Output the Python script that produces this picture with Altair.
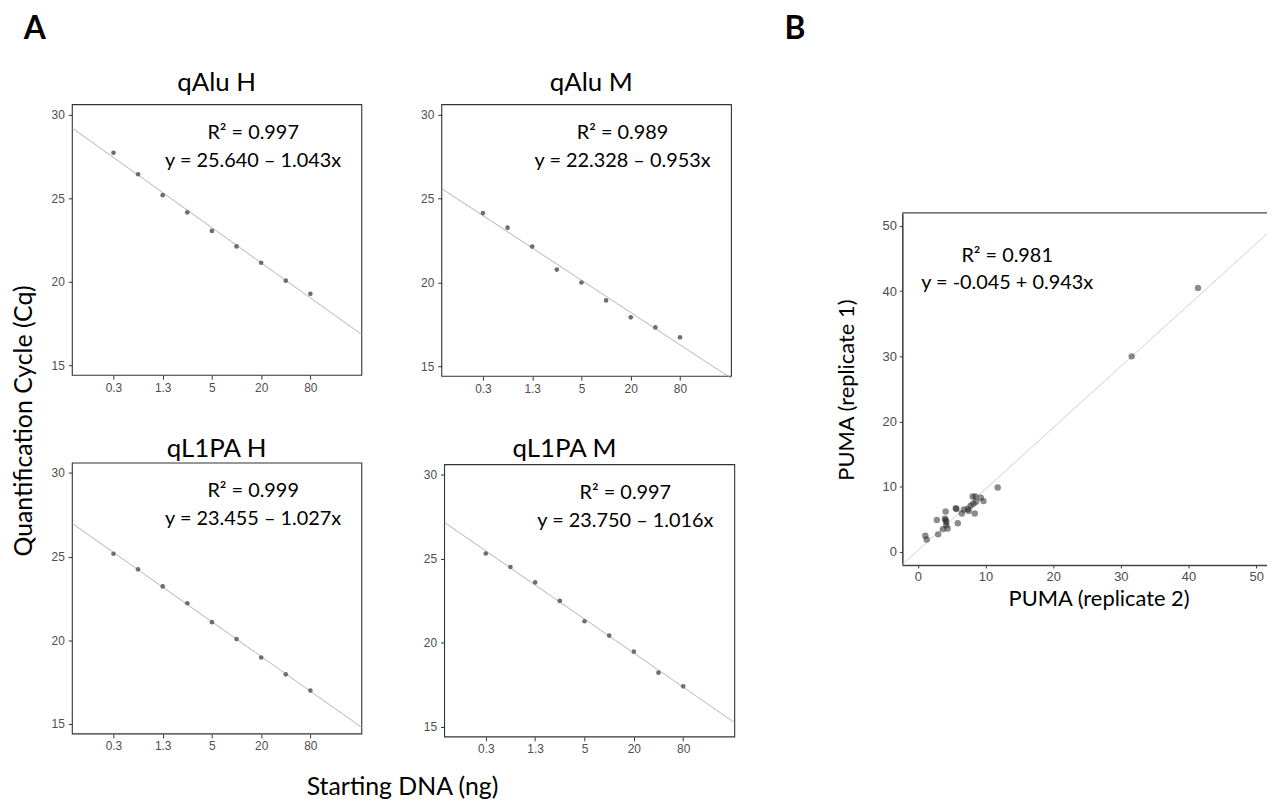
import altair as alt
import pandas as pd

# ---------------- data ----------------
dna_ng = [0.3125, 0.625, 1.25, 2.5, 5, 10, 20, 40, 80]
cq_qalu_h = [27.72, 26.43, 25.18, 24.15, 23.04, 22.11, 21.13, 20.06, 19.27]
cq_qalu_m = [24.13, 23.26, 22.13, 20.76, 19.99, 18.92, 17.91, 17.31, 16.72]
cq_ql1pa_h = [25.17, 24.24, 23.22, 22.21, 21.08, 20.07, 18.97, 17.96, 16.99]
cq_ql1pa_m = [25.31, 24.51, 23.59, 22.49, 21.28, 20.43, 19.47, 18.22, 17.41]

panel_titles = ["qAlu H", "qAlu M", "qL1PA H", "qL1PA M"]
r2_texts = ["R\u00b2 = 0.997", "R\u00b2 = 0.989", "R\u00b2 = 0.999", "R\u00b2 = 0.997"]
eq_texts = ["y = 25.640 \u2013 1.043x", "y = 22.328 \u2013 0.953x",
            "y = 23.455 \u2013 1.027x", "y = 23.750 \u2013 1.016x"]

x_ticks_a = [0.3125, 1.25, 5, 20, 80]
x_tick_labels_a = ["0.3", "1.3", "5", "20", "80"]
y_ticks_a = [15, 20, 25, 30]

puma_rep2 = [41.4, 31.6, 11.8, 8.1, 8.5, 9.3, 9.7, 8.6, 8.2, 7.8, 7.4, 8.4, 6.8, 6.5,
             5.7, 5.6, 5.9, 4.1, 2.8, 4.0, 4.1, 4.2, 4.2, 3.7, 4.4, 3.0, 1.1, 1.3, 7.5]
puma_rep1 = [40.5, 30.0, 9.9, 8.5, 8.5, 8.3, 7.8, 7.7, 7.4, 7.1, 6.6, 5.9, 6.5, 5.9,
             6.6, 6.7, 4.4, 6.2, 4.9, 5.1, 4.9, 4.6, 4.1, 3.5, 3.6, 2.7, 2.5, 1.9, 6.3]
ticks_b = [0, 10, 20, 30, 40, 50]
r2_b = "R\u00b2 = 0.981"
eq_b = "y = -0.045 + 0.943x"

y_title_a = "Quantification Cycle (Cq)"
x_title_a = "Starting DNA (ng)"
y_title_b = "PUMA (replicate 1)"
x_title_b = "PUMA (replicate 2)"

# ---------------- layout ----------------
W, H = 1267, 796
X_DOM_A = [0.098, 340]
Y_DOM_A = [14.4, 30.6]
X_DOM_B = [-2.3, 51.6]
Y_DOM_B = [-2, 52]

LABEL_FONT = "Liberation Sans"
TEXT_FONT = "Lato"

one = pd.DataFrame({"k": [0]})

label_expr = " : ".join(
    f"datum.value == {v} ? '{l}'" for v, l in zip(x_ticks_a, x_tick_labels_a)
) + " : ''"


def axis_common(**kw):
    return alt.Axis(grid=False, title=None, labelFont=LABEL_FONT, labelColor="#4d4d4d",
                    tickColor="#333333", tickWidth=1, **kw)


def txt(s, x, y, size, angle=0, weight="normal", baseline="alphabetic", align="center",
        font=TEXT_FONT):
    return alt.Chart(one).mark_text(
        text=s, font=font, fontSize=size, angle=angle, fontWeight=weight,
        baseline=baseline, align=align, color="black"
    ).encode(x=alt.value(x), y=alt.value(y))


def a_panel(cq, box):
    x0, x1, y0, y1 = box
    df = pd.DataFrame({"ng": dna_ng, "cq": cq})
    xs = alt.Scale(type="log", domain=X_DOM_A, range=[x0, x1], nice=False)
    ys = alt.Scale(type="linear", domain=Y_DOM_A, range=[y1, y0], nice=False, zero=False)
    xa = axis_common(orient="bottom", offset=y1 - H, values=x_ticks_a, labelExpr=label_expr,
                     domain=False, tickSize=4, labelFontSize=12, labelPadding=3)
    ya = axis_common(orient="left", offset=-x0, values=y_ticks_a, domain=False,
                     tickSize=4, labelFontSize=12, labelPadding=4)
    frame = alt.Chart(one).mark_rect(fillOpacity=0, stroke="#333333", strokeWidth=1.1).encode(
        x=alt.XDatum(X_DOM_A[0], scale=xs, axis=xa), x2=alt.X2Datum(X_DOM_A[1]),
        y=alt.YDatum(Y_DOM_A[0], scale=ys, axis=ya), y2=alt.Y2Datum(Y_DOM_A[1]))
    fit = alt.Chart(df).transform_regression(
        "ng", "cq", method="log", extent=X_DOM_A
    ).mark_line(color="#a0a0a0", strokeWidth=0.8).encode(
        x=alt.X("ng:Q", scale=xs, axis=xa), y=alt.Y("cq:Q", scale=ys, axis=ya))
    pts = alt.Chart(df).mark_circle(size=22, color="#6e6e6e", opacity=1).encode(
        x=alt.X("ng:Q", scale=xs, axis=xa), y=alt.Y("cq:Q", scale=ys, axis=ya))
    return alt.layer(frame, fit, pts)


def b_panel(box):
    x0, x1, y0, y1 = box
    df = pd.DataFrame({"rep2": puma_rep2, "rep1": puma_rep1})
    xs = alt.Scale(domain=X_DOM_B, range=[x0, x1], nice=False, zero=False)
    ys = alt.Scale(domain=Y_DOM_B, range=[y1, y0], nice=False, zero=False)
    xa = axis_common(orient="bottom", offset=y1 - H, values=ticks_b, domain=True,
                     domainColor="#444444", domainWidth=1.6, tickSize=3,
                     labelFontSize=13, labelPadding=3)
    ya = axis_common(orient="left", offset=-x0, values=ticks_b, domain=True,
                     domainColor="#444444", domainWidth=1.6, tickSize=3,
                     labelFontSize=13, labelPadding=3)
    top = alt.Chart(one).mark_rule(color="#444444", strokeWidth=1.4).encode(
        x=alt.XDatum(X_DOM_B[0], scale=xs, axis=xa), x2=alt.X2Datum(X_DOM_B[1]),
        y=alt.YDatum(Y_DOM_B[1], scale=ys, axis=ya))
    fit = alt.Chart(df).transform_regression(
        "rep2", "rep1", extent=X_DOM_B
    ).mark_line(color="#c4c4c4", strokeWidth=0.8).encode(
        x=alt.X("rep2:Q", scale=xs, axis=xa), y=alt.Y("rep1:Q", scale=ys, axis=ya))
    pts = alt.Chart(df).mark_circle(size=42, color="#1a1a1a", opacity=0.5).encode(
        x=alt.X("rep2:Q", scale=xs, axis=xa), y=alt.Y("rep1:Q", scale=ys, axis=ya))
    return alt.layer(top, fit, pts)


boxes = [
    (64.7, 356.0, 94.7, 367.0),
    (436.5, 728.0, 94.7, 368.0),
    (64.7, 356.0, 455.3, 728.0),
    (439.3, 731.3, 457.0, 731.0),
]
series = [cq_qalu_h, cq_qalu_m, cq_ql1pa_h, cq_ql1pa_m]
title_pos = [(210, 81.5), (587, 81.5), (210, 449.5), (560, 449.5)]

layers = []
for cq, box in zip(series, boxes):
    layers.append(a_panel(cq, box))
layers.append(b_panel((900.0, 1267.0, 203.7, 558.0)))

for i, box in enumerate(boxes):
    x0, x1, y0, y1 = box
    cx = x0 + 182
    layers.append(txt(panel_titles[i], title_pos[i][0], title_pos[i][1], 26))
    layers.append(txt(r2_texts[i], cx, y0 + 34.5, 20))
    layers.append(txt(eq_texts[i], cx, y0 + 62.5, 20))

layers.append(txt(r2_b, 1005.5, 253, 20))
layers.append(txt(eq_b, 1005.5, 280.3, 20))

layers.append(txt("A", 27, 19, 32, weight="bold", baseline="middle"))
layers.append(txt("B", 792, 19, 32, weight="bold", baseline="middle"))
layers.append(txt(y_title_a, 16, 413, 25, angle=270, baseline="middle"))
layers.append(txt(x_title_a, 397, 781, 25, baseline="middle"))
layers.append(txt(y_title_b, 844, 382, 22, angle=270, baseline="middle"))
layers.append(txt(x_title_b, 1098, 592, 22, baseline="middle"))

chart = alt.layer(*layers).resolve_scale(x="independent", y="independent").properties(
    width=W, height=H, autosize=alt.AutoSizeParams(type="none"), padding=0,
    background="white"
).configure_view(stroke=None)

chart.save("out.html", embed_options={"renderer": "svg", "actions": False})
